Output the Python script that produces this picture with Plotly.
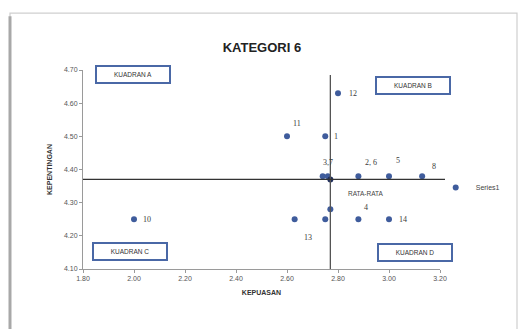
import plotly.graph_objects as go

# Data: importance (KEPENTINGAN) vs satisfaction (KEPUASAN) per attribute
kepuasan = [2.80, 2.60, 2.75, 2.74, 2.76, 2.88, 3.00, 3.13, 2.00, 2.63, 2.75, 2.77, 2.88, 3.00]
kepentingan = [4.63, 4.50, 4.50, 4.38, 4.38, 4.38, 4.38, 4.38, 4.25, 4.25, 4.25, 4.28, 4.25, 4.25]
label_titik = ["12", "11", "1", "3,7", "", "2, 6", "5", "8", "10", "13", "", "", "4", "14"]

rata_kepuasan = 2.77
rata_kepentingan = 4.37
label_rata = "RATA-RATA"

x_ticks = [1.80, 2.00, 2.20, 2.40, 2.60, 2.80, 3.00, 3.20]
y_ticks = [4.10, 4.20, 4.30, 4.40, 4.50, 4.60, 4.70]

kuadran = ["KUADRAN A", "KUADRAN B", "KUADRAN C", "KUADRAN D"]

# Label offsets in pixels (xshift, yshift) for each point label
offset_label = {
    "12": (15, 0), "11": (10, 13), "1": (11, 0), "3,7": (5, 14),
    "2, 6": (13, 14), "5": (9, 16), "8": (12, 10), "10": (13, 0),
    "13": (13, -18), "4": (8, 12), "14": (14, 0),
}
# Quadrant box centres in paper coordinates
posisi_kuadran = [(0.14, 0.975), (0.925, 0.922), (0.133, 0.09), (0.931, 0.085)]

marker_color = "#3F5C9C"
fig = go.Figure()

fig.add_trace(go.Scatter(
    x=kepuasan, y=kepentingan, mode="markers", name="Series1",
    marker=dict(size=6, color=marker_color), showlegend=True,
))
fig.add_trace(go.Scatter(
    x=[rata_kepuasan], y=[rata_kepentingan], mode="markers", showlegend=False,
    marker=dict(size=6, color="#1F2E5C"),
))

annotations = []
for xv, yv, lab in zip(kepuasan, kepentingan, label_titik):
    if not lab:
        continue
    dx, dy = offset_label[lab]
    annotations.append(dict(
        x=xv, y=yv, xref="x", yref="y", text=lab, showarrow=False,
        xshift=dx, yshift=dy, font=dict(family="Liberation Serif", size=8, color="#3A3A3A"),
    ))
annotations.append(dict(
    x=rata_kepuasan, y=rata_kepentingan, xref="x", yref="y", text=label_rata,
    showarrow=False, xshift=36, yshift=-14,
    font=dict(family="Liberation Sans", size=6.5, color="#444444"),
))
for teks, (px, py) in zip(kuadran, posisi_kuadran):
    annotations.append(dict(
        x=px, y=py, xref="paper", yref="paper", text=teks, showarrow=False,
        xanchor="center", yanchor="middle",
        font=dict(family="Liberation Sans", size=6.5, color="#333333"),
        bgcolor="white", bordercolor="#4A68A6", borderwidth=2, borderpad=2,
        width=68, height=11,
    ))

shapes = [
    # mean lines
    dict(type="line", xref="x", yref="y", x0=rata_kepuasan, x1=rata_kepuasan,
         y0=y_ticks[0], y1=4.685, line=dict(color="#555555", width=1.3)),
    dict(type="line", xref="paper", yref="y", x0=0, x1=1.014,
         y0=rata_kepentingan, y1=rata_kepentingan, line=dict(color="#333333", width=1.3)),
    # chart frame
    dict(type="rect", xref="paper", yref="paper", x0=-0.2045, x1=1.2157, y0=-0.35, y1=1.286,
         line=dict(color="#CFCFCF", width=1.2)),
    dict(type="line", xref="paper", yref="paper", x0=-0.2045, x1=-0.2045, y0=-0.35, y1=1.27,
         line=dict(color="#A8A8A8", width=3)),
]

axis_font = dict(family="Liberation Sans", size=7, color="#555555")
fig.update_layout(
    width=527, height=329,
    margin=dict(l=83, r=87, t=70, b=60, autoexpand=False),
    paper_bgcolor="white", plot_bgcolor="white",
    title=dict(text="<b>KATEGORI 6</b>", x=0.497, xanchor="center", y=0.857, yanchor="middle",
               font=dict(family="Liberation Sans", size=13, color="#222222")),
    xaxis=dict(range=[x_ticks[0], x_ticks[-1]], tickvals=x_ticks, tickformat=".2f",
               showgrid=False, zeroline=False, showline=True, linecolor="#9A9A9A",
               ticks="outside", ticklen=3, tickcolor="#9A9A9A", tickfont=axis_font,
               title=dict(text="<b>KEPUASAN</b>", standoff=8,
                          font=dict(family="Liberation Sans", size=7, color="#333333"))),
    yaxis=dict(range=[y_ticks[0], y_ticks[-1]], tickvals=y_ticks, tickformat=".2f",
               showgrid=False, zeroline=False, showline=True, linecolor="#9A9A9A",
               ticks="outside", ticklen=3, tickcolor="#9A9A9A", tickfont=axis_font,
               title=dict(text="<b>KEPENTINGAN</b>", standoff=10,
                          font=dict(family="Liberation Sans", size=7, color="#333333"))),
    legend=dict(x=0.988, y=0.41, xanchor="left", yanchor="middle",
                font=dict(family="Liberation Sans", size=7, color="#444444"),
                bgcolor="rgba(0,0,0,0)", itemwidth=30),
    annotations=annotations,
    shapes=shapes,
)

fig.write_html("out.html")
